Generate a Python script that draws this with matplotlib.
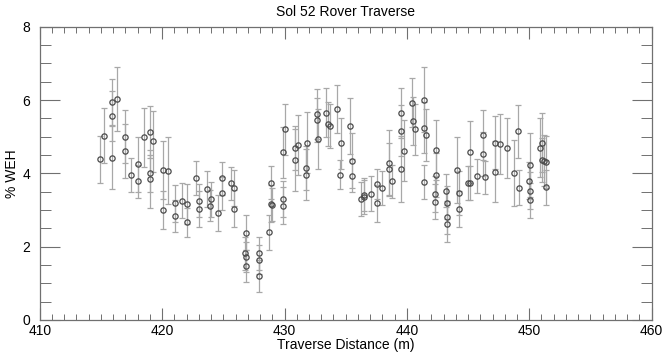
import matplotlib
matplotlib.use("Agg")
import matplotlib.pyplot as plt
from matplotlib.ticker import MultipleLocator

plt.rcParams['font.family'] = ['Liberation Sans', 'DejaVu Sans']

distance = [414.96, 415.23, 415.94, 415.94, 415.94, 416.35, 417.0, 417.0, 417.47, 418.04,
            418.04, 418.53, 419.04, 419.26, 419.04, 419.04, 420.05, 420.05, 420.49, 421.04,
            421.04, 421.64, 422.0, 422.0, 422.76, 423.0, 423.0, 423.68, 424.0, 423.92,
            424.55, 424.9, 424.9, 425.64, 425.91, 425.91, 426.87, 426.76, 426.87, 426.87,
            427.88, 427.88, 427.88, 428.77, 428.86, 428.86, 429.0, 429.84, 430.03, 429.84,
            429.84, 430.82, 430.82, 431.07, 431.75, 431.75, 431.86, 432.65, 432.65, 432.7,
            433.38, 433.55, 433.71, 434.28, 434.58, 434.55, 435.37, 435.51, 435.51, 436.27,
            436.52, 436.52, 437.06, 437.52, 437.52, 437.99, 438.5, 438.5, 438.78, 439.48,
            439.48, 439.48, 439.73, 440.44, 440.47, 440.63, 441.4, 441.37, 441.53, 441.42,
            442.38, 442.38, 442.3, 442.3, 443.16, 443.3, 443.3, 443.3, 444.06, 444.23,
            444.26, 445.02, 445.18, 445.2, 445.73, 446.19, 446.19, 446.41, 447.17, 447.17,
            447.64, 448.15, 448.76, 449.08, 449.13, 450.06, 449.95, 450.06, 450.06, 450.88,
            451.05, 451.07, 451.23, 451.34, 451.34]
weh = [4.38, 5.03, 5.95, 5.56, 4.43, 6.03, 5.0, 4.61, 3.95, 4.25,
       3.78, 4.98, 5.13, 4.87, 4.0, 3.85, 4.09, 3.0, 4.07, 3.18,
       2.84, 3.25, 3.16, 2.66, 3.88, 3.25, 3.03, 3.57, 3.29, 3.12,
       2.92, 3.87, 3.46, 3.73, 3.6, 3.04, 2.38, 1.82, 1.72, 1.48,
       1.82, 1.65, 1.2, 2.39, 3.74, 3.17, 3.14, 4.57, 5.2, 3.3,
       3.12, 4.36, 4.69, 4.77, 4.14, 3.96, 4.83, 5.62, 5.45, 4.93,
       5.65, 5.34, 5.28, 5.75, 4.82, 3.96, 5.3, 4.35, 3.94, 3.3,
       3.42, 3.35, 3.45, 3.71, 3.18, 3.61, 4.29, 4.12, 3.78, 5.65,
       5.16, 4.11, 4.62, 5.93, 5.43, 5.2, 6.01, 5.25, 5.05, 3.77,
       4.64, 3.95, 3.44, 3.23, 3.52, 3.2, 2.8, 2.63, 4.08, 3.46,
       3.03, 3.74, 3.74, 4.59, 3.92, 5.04, 4.54, 3.89, 4.84, 4.05,
       4.81, 4.7, 4.02, 5.15, 3.61, 4.23, 3.8, 3.53, 3.27, 4.7,
       4.84, 4.37, 4.35, 4.31, 3.62]
weh_err = [0.63, 0.74, 0.62, 0.68, 0.87, 0.87, 0.73, 0.73, 0.46, 0.75,
           0.44, 0.8, 0.71, 0.83, 0.5, 0.79, 0.8, 0.52, 0.91, 0.5,
           0.43, 0.48, 0.55, 0.4, 0.46, 0.45, 0.5, 0.5, 0.48, 0.42,
           0.5, 0.45, 0.45, 0.45, 0.5, 0.5, 0.48, 0.45, 0.4, 0.44,
           0.45, 0.4, 0.43, 0.48, 0.45, 0.5, 0.45, 0.7, 0.69, 0.5,
           0.5, 0.85, 0.6, 0.82, 0.6, 0.7, 0.83, 0.67, 0.6, 0.82,
           0.67, 0.6, 0.6, 0.65, 0.7, 0.4, 0.76, 0.75, 0.46, 0.47,
           0.45, 0.46, 0.48, 0.4, 0.5, 0.46, 0.9, 0.7, 0.46, 0.68,
           0.7, 0.9, 0.83, 0.67, 0.65, 0.7, 0.88, 0.7, 0.7, 0.46,
           0.82, 0.6, 0.5, 0.48, 0.45, 0.45, 0.45, 0.5, 0.9, 0.6,
           0.5, 0.46, 0.46, 0.84, 0.46, 0.68, 0.6, 0.46, 0.72, 0.82,
           0.82, 0.82, 0.9, 0.72, 0.47, 0.88, 0.5, 0.5, 0.48, 0.8,
           0.8, 0.6, 0.7, 0.7, 0.47]

fig = plt.figure(figsize=(6.63, 3.55), dpi=100)
ax = fig.add_axes([0.0600, 0.0986, 0.9228, 0.8262])

ax.errorbar(distance, weh, yerr=weh_err, fmt='o', ms=3.8, mfc='none', mec='#4a4a4a',
            mew=0.9, ecolor='#a8a8a8', elinewidth=0.9, capsize=2.4, capthick=0.8)

ax.set_xlim(410, 460)
ax.set_ylim(0, 8)
ax.xaxis.set_major_locator(MultipleLocator(10))
ax.xaxis.set_minor_locator(MultipleLocator(1))
ax.yaxis.set_major_locator(MultipleLocator(2))
ax.yaxis.set_minor_locator(MultipleLocator(0.5))

axcol = '#707070'
for s in ax.spines.values():
    s.set_color(axcol)
    s.set_linewidth(0.9)
ax.tick_params(axis='x', which='major', direction='in', length=8.6, width=0.8,
               top=True, bottom=True, color=axcol, labelsize=10, pad=3)
ax.tick_params(axis='x', which='minor', direction='in', length=4.3, width=0.7,
               top=True, bottom=True, color=axcol)
ax.tick_params(axis='y', which='major', direction='in', length=14.4, width=0.8,
               left=True, right=True, color=axcol, labelsize=10, pad=7)
ax.tick_params(axis='y', which='minor', direction='in', length=7.9, width=0.7,
               left=True, right=True, color=axcol)

ax.set_title('Sol 52 Rover Traverse', fontsize=10, pad=8)
ax.set_xlabel('Traverse Distance (m)', fontsize=10, labelpad=0)
ax.set_ylabel('% WEH', fontsize=10, labelpad=2)

fig.savefig('out.png', dpi=100)
